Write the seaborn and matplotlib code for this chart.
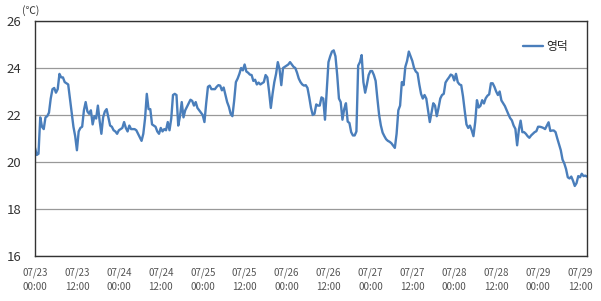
import matplotlib
matplotlib.use("Agg")
import matplotlib.pyplot as plt
import seaborn as sns
import numpy as np
import pandas as pd

# Half-hourly temperature readings (℃), starting 07/23 00:00
temps = [
    20.6, 20.3, 20.35, 21.9, 21.5, 21.4, 21.9, 21.95, 22.1, 22.7,
    23.1, 23.15, 22.95, 23.1, 23.75, 23.6, 23.6, 23.4, 23.35, 23.3,
    22.7, 22.1, 21.5, 21.1, 20.5, 21.3, 21.45, 21.5, 22.2, 22.55,
    22.15, 22.05, 22.2, 21.6, 21.95, 21.85, 22.4, 21.75, 21.2, 21.9,
    22.15, 22.25, 21.9, 21.55, 21.5, 21.35, 21.3, 21.2, 21.35, 21.4,
    21.45, 21.7, 21.45, 21.3, 21.55, 21.4, 21.4, 21.4, 21.35, 21.2,
    21.05, 20.9, 21.2, 21.85, 22.9, 22.25, 22.25, 21.6, 21.55, 21.5,
    21.3, 21.2, 21.45, 21.3, 21.4, 21.35, 21.7, 21.35, 21.85, 22.85,
    22.9, 22.85, 21.55, 21.95, 22.55, 21.9, 22.2, 22.35, 22.5, 22.65,
    22.6, 22.4, 22.55, 22.3, 22.2, 22.1, 22.0, 21.7, 22.5, 23.2,
    23.25, 23.1, 23.1, 23.1, 23.2, 23.27, 23.25, 23.05, 23.17, 22.85,
    22.55, 22.35, 22.05, 21.95, 22.6, 23.4, 23.55, 23.75, 24.0, 23.9,
    24.15, 23.85, 23.8, 23.72, 23.7, 23.45, 23.5, 23.3, 23.38, 23.3,
    23.35, 23.4, 23.7, 23.6, 23.0, 22.3, 22.9, 23.4, 23.75, 24.25,
    23.95, 23.27, 24.0, 24.05, 24.1, 24.15, 24.25, 24.15, 24.05, 24.0,
    23.8, 23.55, 23.4, 23.3, 23.25, 23.27, 23.15, 22.75, 22.3, 22.0,
    22.05, 22.45, 22.4, 22.4, 22.75, 22.7, 21.8, 23.0, 24.25, 24.5,
    24.7, 24.75, 24.5, 23.7, 22.7, 22.55, 21.8, 22.25, 22.5, 21.72,
    21.66, 21.27, 21.13, 21.13, 21.3, 24.1, 24.25, 24.55, 23.4, 22.95,
    23.3, 23.7, 23.87, 23.87, 23.7, 23.45, 22.7, 22.0, 21.55, 21.25,
    21.1, 20.97, 20.9, 20.86, 20.8, 20.7, 20.6, 21.2, 22.2, 22.4,
    23.4, 23.27, 24.05, 24.3, 24.7, 24.5, 24.3, 24.0, 23.85, 23.78,
    23.3, 22.9, 22.7, 22.85, 22.7, 22.2, 21.7, 22.1, 22.5, 22.4,
    21.95, 22.3, 22.7, 22.85, 22.9, 23.38, 23.5, 23.6, 23.72, 23.68,
    23.47, 23.75, 23.4, 23.3, 23.27, 22.8, 22.18, 21.6, 21.45, 21.55,
    21.35, 21.1, 21.7, 22.63, 22.32, 22.39, 22.63, 22.49, 22.71, 22.82,
    22.88, 23.35, 23.35, 23.2, 23.0, 22.85, 23.0, 22.62, 22.5, 22.38,
    22.2, 22.03, 21.87, 21.77, 21.55, 21.41, 20.71, 21.37, 21.76, 21.27,
    21.27, 21.2, 21.1, 21.03, 21.13, 21.2, 21.27, 21.31, 21.5, 21.5,
    21.48, 21.45, 21.4, 21.55, 21.69, 21.32, 21.34, 21.34, 21.27, 21.0,
    20.75, 20.5, 20.1, 19.94, 19.7, 19.35, 19.3, 19.38, 19.2, 18.98,
    19.1, 19.4, 19.35, 19.5, 19.4, 19.42, 19.38,
]
series_name = "영덕"
tick_labels = [
    "07/23\n00:00", "07/23\n12:00", "07/24\n00:00", "07/24\n12:00",
    "07/25\n00:00", "07/25\n12:00", "07/26\n00:00", "07/26\n12:00",
    "07/27\n00:00", "07/27\n12:00", "07/28\n00:00", "07/28\n12:00",
    "07/29\n00:00", "07/29\n12:00",
]
y_ticks = [16, 18, 20, 22, 24, 26]

sns.set_theme(style="white")
plt.rcParams['font.family'] = ['Noto Sans CJK KR', 'DejaVu Sans']

df = pd.DataFrame({"hour": np.arange(len(temps)) * 0.5,
                   "temp": temps, "site": series_name})

fig = plt.figure(figsize=(6.01, 3.01), dpi=100)
ax = fig.add_axes([35/601, 45/301, 552/601, 235/301])

sns.lineplot(data=df, x="hour", y="temp", hue="site", palette=["#4a7ebb"],
             linewidth=1.7, ax=ax)

ax.set_xlim(0, 158)
ax.set_ylim(16, 26)
ax.set_yticks(y_ticks)
ax.set_yticklabels([str(v) for v in y_ticks], fontsize=9.5, color="#333333")
ax.set_xticks(np.arange(len(tick_labels)) * 12)
ax.set_xticklabels(tick_labels, fontsize=7, color="#555555", linespacing=1.6)
ax.tick_params(axis="x", direction="in", length=3, width=0.8, color="#888888", pad=8)
ax.tick_params(axis="y", length=0, pad=10)
ax.set_xlabel("")
ax.set_ylabel("")
ax.grid(axis="y", color="#999999", linewidth=0.9)
ax.grid(axis="x", visible=False)
for s in ax.spines.values():
    s.set_color("#333333")
    s.set_linewidth(1.0)

leg = ax.legend(loc="upper right", bbox_to_anchor=(0.985, 0.965), frameon=False,
                fontsize=8.5, handlelength=1.7, handletextpad=0.3)

fig.text(22/601, 1 - 11/301, "(℃)", fontsize=7.5, color="#333333",
         ha="left", va="center")

fig.savefig("out.png", dpi=100)
